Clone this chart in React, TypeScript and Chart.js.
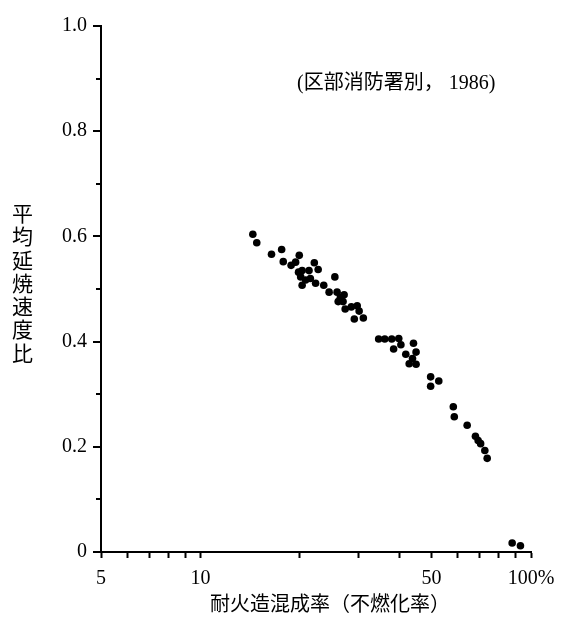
import React, { useEffect, useRef } from 'react';
import { Chart, registerables } from 'chart.js';

Chart.register(...registerables);

// 耐火造混成率 (%) — x values
const fireproofRate = [
  14.4, 14.8, 16.4, 17.6, 19.9, 17.8, 18.8, 19.4, 22.1, 22.7, 19.8, 20.3, 21.3, 20.1, 20.8, 20.3,
  21.5, 22.3, 25.5, 23.6, 24.5, 25.9, 26.5, 27.2, 26.1, 27.0, 27.4, 28.6, 29.8, 30.2, 31.1, 29.2,
  34.6, 36.1, 37.9, 39.8, 38.4, 40.4, 44.1, 41.8, 44.9, 43.8, 42.8, 44.9,
  49.7, 52.6, 49.7,
  58.2, 58.6, 64.1, 67.9, 69.2, 70.4, 72.5, 73.7,
  87.7, 92.9,
];

// 平均延焼速度比 — y values
const spreadRatio = [
  0.604, 0.588, 0.566, 0.575, 0.564, 0.552, 0.545, 0.551, 0.55, 0.537, 0.532, 0.535, 0.535, 0.523, 0.517, 0.507,
  0.52, 0.511, 0.523, 0.507, 0.494, 0.494, 0.484, 0.489, 0.476, 0.476, 0.462, 0.466, 0.468, 0.458, 0.445, 0.443,
  0.405, 0.405, 0.405, 0.406, 0.386, 0.394, 0.397, 0.376, 0.38, 0.368, 0.358, 0.357,
  0.333, 0.325, 0.315,
  0.276, 0.257, 0.241, 0.22, 0.212, 0.206, 0.193, 0.178,
  0.017, 0.012,
];

const xTickValues = [5, 6, 7, 8, 9, 10, 20, 30, 40, 50, 60, 70, 80, 90, 100];
const xTickLabels: Record<number, string> = { 5: '5', 10: '10', 50: '50', 100: '100%' };
const yMajorTicks = [0, 0.2, 0.4, 0.6, 0.8, 1.0];
const yMinorTicks = [0.1, 0.3, 0.5, 0.7, 0.9];
const yTickLabels = ['0', '0.2', '0.4', '0.6', '0.8', '1.0'];

const yTitle = '平均延焼速度比';
const xTitle = '耐火造混成率（不燃化率）';
const note = '(区部消防署別， 1986)';

const SERIF = '"Liberation Serif", "Noto Sans CJK JP", serif';
const CJK = '"Noto Sans CJK JP", sans-serif';

const decorPlugin = {
  id: 'decor',
  afterDraw(chart: any) {
    const ctx = chart.ctx as CanvasRenderingContext2D;
    const y = chart.scales.y;
    const left = chart.chartArea.left;
    ctx.save();
    ctx.strokeStyle = '#000';
    ctx.lineWidth = 2;
    ctx.beginPath();
    yMajorTicks.forEach((v) => {
      const py = Math.round(y.getPixelForValue(v));
      ctx.moveTo(left - 8, py);
      ctx.lineTo(left, py);
    });
    yMinorTicks.forEach((v) => {
      const py = Math.round(y.getPixelForValue(v));
      ctx.moveTo(left - 5, py);
      ctx.lineTo(left, py);
    });
    ctx.stroke();

    ctx.fillStyle = '#000';
    // vertical y-axis title
    ctx.font = `21px ${CJK}`;
    ctx.textAlign = 'center';
    ctx.textBaseline = 'middle';
    Array.from(yTitle).forEach((ch, i) => {
      ctx.fillText(ch, 22.5, 213 + i * 23.3);
    });

    // x-axis title
    ctx.font = `20px ${CJK}`;
    ctx.textAlign = 'center';
    ctx.fillText(xTitle, 330, 603);

    // note
    ctx.font = `20px ${SERIF}`;
    ctx.textAlign = 'left';
    ctx.fillText(note, 297, 84);
    ctx.restore();
  },
};

export default function App() {
  const ref = useRef<HTMLCanvasElement>(null);

  useEffect(() => {
    if (!ref.current) return;
    const chart = new Chart(ref.current, {
      type: 'scatter',
      data: {
        datasets: [
          {
            data: fireproofRate.map((x, i) => ({ x, y: spreadRatio[i] })),
            backgroundColor: '#000',
            borderWidth: 0,
            pointRadius: 3.8,
          },
        ],
      },
      options: {
        animation: false,
        responsive: false,
        devicePixelRatio: 1,
        layout: { padding: { top: 16, right: 44, left: 0, bottom: 0 } },
        plugins: { legend: { display: false }, tooltip: { enabled: false } },
        scales: {
          x: {
            type: 'logarithmic',
            min: 5,
            max: 100,
            afterFit: (s: any) => {
              s.height = 65;
            },
            afterBuildTicks: (s: any) => {
              s.ticks = xTickValues.map((value) => ({ value }));
            },
            grid: {
              display: true,
              drawOnChartArea: false,
              drawTicks: true,
              tickLength: 6,
              tickWidth: 2,
              tickColor: '#000',
            },
            border: { display: true, color: '#000', width: 2 },
            ticks: {
              autoSkip: false,
              maxRotation: 0,
              padding: 9,
              color: '#000',
              font: { family: SERIF, size: 20 },
              callback: (v: any) => xTickLabels[Number(v)] ?? '',
            },
          },
          y: {
            type: 'linear',
            min: 0,
            max: 1,
            afterFit: (s: any) => {
              s.width = 101;
            },
            afterBuildTicks: (s: any) => {
              s.ticks = yMajorTicks.map((value) => ({ value }));
            },
            grid: { display: false, drawTicks: false },
            border: { display: true, color: '#000', width: 2 },
            ticks: {
              padding: 14,
              color: '#000',
              font: { family: SERIF, size: 20 },
              callback: (v: any) => {
                const idx = yMajorTicks.findIndex((t) => Math.abs(t - Number(v)) < 1e-6);
                return idx >= 0 ? yTickLabels[idx] : '';
              },
            },
          },
        },
      },
      plugins: [decorPlugin],
    });
    return () => chart.destroy();
  }, []);

  return (
    <div style={{ position: 'fixed', left: 0, top: 0, width: 575, height: 617, background: '#fff' }}>
      <canvas ref={ref} width={575} height={617} />
    </div>
  );
}
